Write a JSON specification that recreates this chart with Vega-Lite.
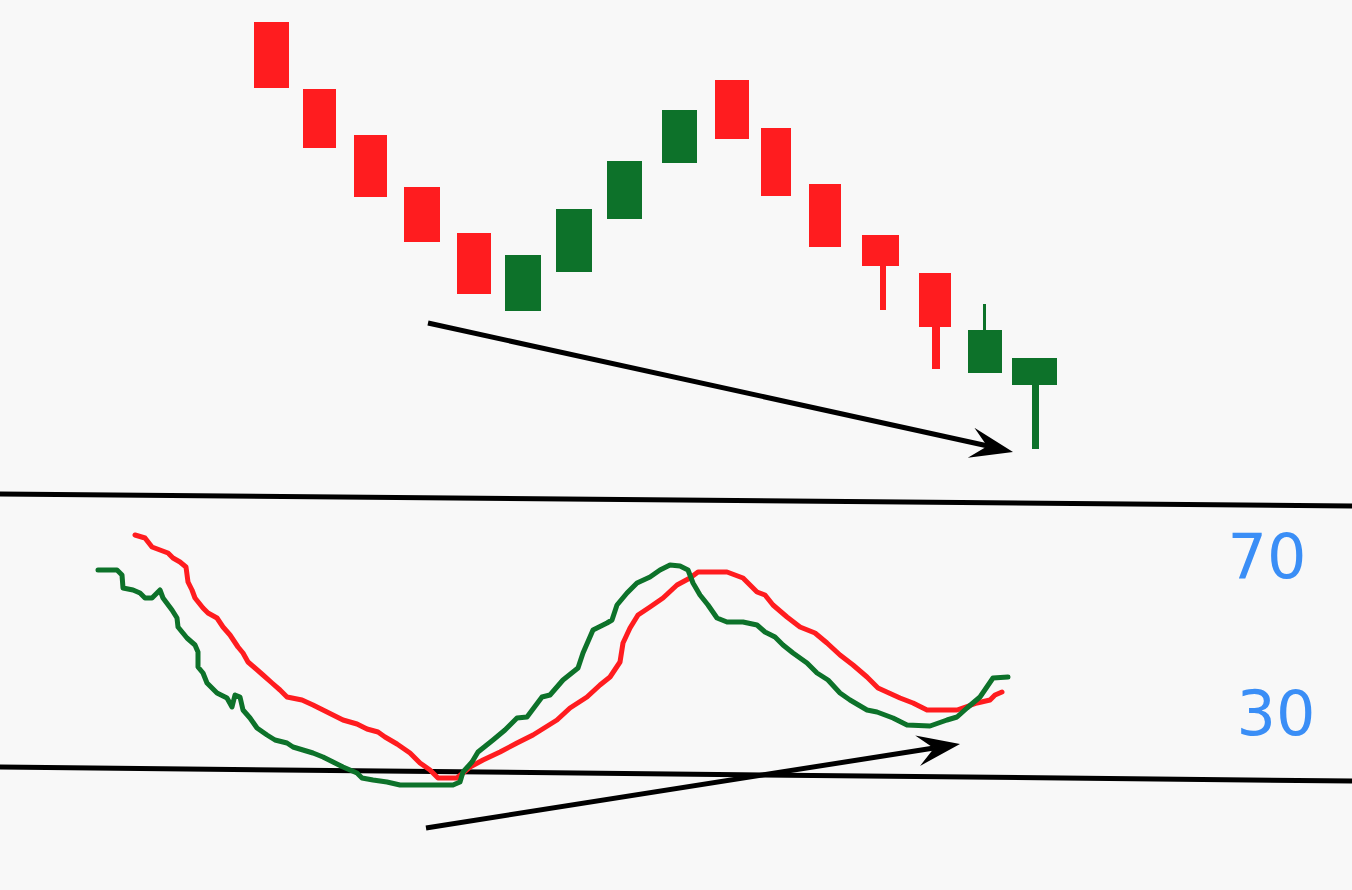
{
  "$schema": "https://vega.github.io/schema/vega-lite/v6.json",
  "autosize": {"type": "fit", "contains": "padding"},
  "width": 1352,
  "height": 890,
  "padding": 0,
  "background": "#f8f8f8",
  "config": {"view": {"stroke": null}},
  "datasets": {
    "candles": [
      {"i": 1, "x0": 254, "x1": 289, "top": 22, "bottom": 88, "dir": "down"},
      {"i": 2, "x0": 303, "x1": 336, "top": 89, "bottom": 148, "dir": "down"},
      {"i": 3, "x0": 354, "x1": 387, "top": 135, "bottom": 197, "dir": "down"},
      {"i": 4, "x0": 404, "x1": 440, "top": 187, "bottom": 242, "dir": "down"},
      {"i": 5, "x0": 457, "x1": 491, "top": 233, "bottom": 294, "dir": "down"},
      {"i": 6, "x0": 505, "x1": 541, "top": 255, "bottom": 311, "dir": "up"},
      {"i": 7, "x0": 556, "x1": 592, "top": 209, "bottom": 272, "dir": "up"},
      {"i": 8, "x0": 607, "x1": 642, "top": 161, "bottom": 219, "dir": "up"},
      {"i": 9, "x0": 662, "x1": 697, "top": 110, "bottom": 163, "dir": "up"},
      {"i": 10, "x0": 715, "x1": 749, "top": 80, "bottom": 139, "dir": "down"},
      {"i": 11, "x0": 761, "x1": 791, "top": 128, "bottom": 196, "dir": "down"},
      {"i": 12, "x0": 809, "x1": 841, "top": 184, "bottom": 247, "dir": "down"},
      {"i": 13, "x0": 862, "x1": 899, "top": 235, "bottom": 266, "dir": "down"},
      {"i": 14, "x0": 919, "x1": 951, "top": 273, "bottom": 327, "dir": "down"},
      {"i": 15, "x0": 968, "x1": 1002, "top": 330, "bottom": 373, "dir": "up"},
      {"i": 16, "x0": 1012, "x1": 1057, "top": 358, "bottom": 385, "dir": "up"}
    ],
    "wicks": [
      {"i": 13, "x0": 880, "x1": 886, "top": 266, "bottom": 310, "dir": "down"},
      {"i": 14, "x0": 932, "x1": 940, "top": 327, "bottom": 369, "dir": "down"},
      {"i": 15, "x0": 983, "x1": 986, "top": 304, "bottom": 330, "dir": "up"},
      {"i": 16, "x0": 1032, "x1": 1039, "top": 385, "bottom": 449, "dir": "up"}
    ],
    "segments": [
      {"name": "sep_top", "xa": 0, "ya": 494, "xb": 1352, "yb": 506},
      {"name": "sep_bottom", "xa": 0, "ya": 767, "xb": 1352, "yb": 781},
      {"name": "price_trend", "xa": 428, "ya": 323, "xb": 988, "yb": 446},
      {"name": "rsi_trend", "xa": 426, "ya": 828, "xb": 934, "yb": 748}
    ],
    "rsi": [
      {"s": "slow", "o": 1, "x": 135, "y": 535},
      {"s": "slow", "o": 2, "x": 145, "y": 538},
      {"s": "slow", "o": 3, "x": 152, "y": 547},
      {"s": "slow", "o": 4, "x": 160, "y": 550},
      {"s": "slow", "o": 5, "x": 168, "y": 553},
      {"s": "slow", "o": 6, "x": 173, "y": 558},
      {"s": "slow", "o": 7, "x": 180, "y": 562},
      {"s": "slow", "o": 8, "x": 186, "y": 567},
      {"s": "slow", "o": 9, "x": 188, "y": 582},
      {"s": "slow", "o": 10, "x": 192, "y": 590},
      {"s": "slow", "o": 11, "x": 195, "y": 598},
      {"s": "slow", "o": 12, "x": 203, "y": 608},
      {"s": "slow", "o": 13, "x": 208, "y": 613},
      {"s": "slow", "o": 14, "x": 217, "y": 618},
      {"s": "slow", "o": 15, "x": 223, "y": 627},
      {"s": "slow", "o": 16, "x": 230, "y": 635},
      {"s": "slow", "o": 17, "x": 238, "y": 647},
      {"s": "slow", "o": 18, "x": 243, "y": 653},
      {"s": "slow", "o": 19, "x": 248, "y": 662},
      {"s": "slow", "o": 20, "x": 255, "y": 668},
      {"s": "slow", "o": 21, "x": 263, "y": 675},
      {"s": "slow", "o": 22, "x": 272, "y": 683},
      {"s": "slow", "o": 23, "x": 280, "y": 690},
      {"s": "slow", "o": 24, "x": 287, "y": 697},
      {"s": "slow", "o": 25, "x": 302, "y": 700},
      {"s": "slow", "o": 26, "x": 313, "y": 705},
      {"s": "slow", "o": 27, "x": 327, "y": 712},
      {"s": "slow", "o": 28, "x": 343, "y": 720},
      {"s": "slow", "o": 29, "x": 357, "y": 724},
      {"s": "slow", "o": 30, "x": 367, "y": 729},
      {"s": "slow", "o": 31, "x": 378, "y": 732},
      {"s": "slow", "o": 32, "x": 385, "y": 737},
      {"s": "slow", "o": 33, "x": 397, "y": 744},
      {"s": "slow", "o": 34, "x": 410, "y": 753},
      {"s": "slow", "o": 35, "x": 420, "y": 763},
      {"s": "slow", "o": 36, "x": 430, "y": 770},
      {"s": "slow", "o": 37, "x": 438, "y": 778},
      {"s": "slow", "o": 38, "x": 457, "y": 778},
      {"s": "slow", "o": 39, "x": 463, "y": 773},
      {"s": "slow", "o": 40, "x": 470, "y": 767},
      {"s": "slow", "o": 41, "x": 483, "y": 760},
      {"s": "slow", "o": 42, "x": 500, "y": 752},
      {"s": "slow", "o": 43, "x": 517, "y": 743},
      {"s": "slow", "o": 44, "x": 533, "y": 735},
      {"s": "slow", "o": 45, "x": 557, "y": 720},
      {"s": "slow", "o": 46, "x": 570, "y": 708},
      {"s": "slow", "o": 47, "x": 587, "y": 697},
      {"s": "slow", "o": 48, "x": 600, "y": 685},
      {"s": "slow", "o": 49, "x": 610, "y": 677},
      {"s": "slow", "o": 50, "x": 620, "y": 662},
      {"s": "slow", "o": 51, "x": 623, "y": 643},
      {"s": "slow", "o": 52, "x": 630, "y": 628},
      {"s": "slow", "o": 53, "x": 638, "y": 615},
      {"s": "slow", "o": 54, "x": 650, "y": 607},
      {"s": "slow", "o": 55, "x": 663, "y": 598},
      {"s": "slow", "o": 56, "x": 677, "y": 585},
      {"s": "slow", "o": 57, "x": 690, "y": 578},
      {"s": "slow", "o": 58, "x": 698, "y": 572},
      {"s": "slow", "o": 59, "x": 727, "y": 572},
      {"s": "slow", "o": 60, "x": 743, "y": 578},
      {"s": "slow", "o": 61, "x": 757, "y": 592},
      {"s": "slow", "o": 62, "x": 765, "y": 595},
      {"s": "slow", "o": 63, "x": 773, "y": 605},
      {"s": "slow", "o": 64, "x": 787, "y": 617},
      {"s": "slow", "o": 65, "x": 800, "y": 627},
      {"s": "slow", "o": 66, "x": 815, "y": 633},
      {"s": "slow", "o": 67, "x": 827, "y": 643},
      {"s": "slow", "o": 68, "x": 840, "y": 655},
      {"s": "slow", "o": 69, "x": 853, "y": 665},
      {"s": "slow", "o": 70, "x": 867, "y": 677},
      {"s": "slow", "o": 71, "x": 878, "y": 688},
      {"s": "slow", "o": 72, "x": 900, "y": 698},
      {"s": "slow", "o": 73, "x": 913, "y": 703},
      {"s": "slow", "o": 74, "x": 927, "y": 710},
      {"s": "slow", "o": 75, "x": 957, "y": 710},
      {"s": "slow", "o": 76, "x": 977, "y": 703},
      {"s": "slow", "o": 77, "x": 990, "y": 700},
      {"s": "slow", "o": 78, "x": 995, "y": 695},
      {"s": "slow", "o": 79, "x": 1002, "y": 692},
      {"s": "fast", "o": 1, "x": 98, "y": 570},
      {"s": "fast", "o": 2, "x": 117, "y": 570},
      {"s": "fast", "o": 3, "x": 122, "y": 575},
      {"s": "fast", "o": 4, "x": 123, "y": 588},
      {"s": "fast", "o": 5, "x": 133, "y": 590},
      {"s": "fast", "o": 6, "x": 140, "y": 593},
      {"s": "fast", "o": 7, "x": 145, "y": 598},
      {"s": "fast", "o": 8, "x": 152, "y": 598},
      {"s": "fast", "o": 9, "x": 160, "y": 590},
      {"s": "fast", "o": 10, "x": 163, "y": 598},
      {"s": "fast", "o": 11, "x": 172, "y": 610},
      {"s": "fast", "o": 12, "x": 177, "y": 618},
      {"s": "fast", "o": 13, "x": 178, "y": 627},
      {"s": "fast", "o": 14, "x": 187, "y": 638},
      {"s": "fast", "o": 15, "x": 195, "y": 645},
      {"s": "fast", "o": 16, "x": 198, "y": 652},
      {"s": "fast", "o": 17, "x": 198, "y": 667},
      {"s": "fast", "o": 18, "x": 203, "y": 673},
      {"s": "fast", "o": 19, "x": 207, "y": 683},
      {"s": "fast", "o": 20, "x": 217, "y": 693},
      {"s": "fast", "o": 21, "x": 227, "y": 698},
      {"s": "fast", "o": 22, "x": 232, "y": 707},
      {"s": "fast", "o": 23, "x": 235, "y": 695},
      {"s": "fast", "o": 24, "x": 240, "y": 697},
      {"s": "fast", "o": 25, "x": 243, "y": 710},
      {"s": "fast", "o": 26, "x": 250, "y": 718},
      {"s": "fast", "o": 27, "x": 257, "y": 728},
      {"s": "fast", "o": 28, "x": 267, "y": 735},
      {"s": "fast", "o": 29, "x": 275, "y": 740},
      {"s": "fast", "o": 30, "x": 287, "y": 743},
      {"s": "fast", "o": 31, "x": 293, "y": 747},
      {"s": "fast", "o": 32, "x": 303, "y": 750},
      {"s": "fast", "o": 33, "x": 313, "y": 753},
      {"s": "fast", "o": 34, "x": 323, "y": 757},
      {"s": "fast", "o": 35, "x": 333, "y": 762},
      {"s": "fast", "o": 36, "x": 343, "y": 767},
      {"s": "fast", "o": 37, "x": 357, "y": 773},
      {"s": "fast", "o": 38, "x": 362, "y": 778},
      {"s": "fast", "o": 39, "x": 373, "y": 780},
      {"s": "fast", "o": 40, "x": 387, "y": 782},
      {"s": "fast", "o": 41, "x": 400, "y": 785},
      {"s": "fast", "o": 42, "x": 453, "y": 785},
      {"s": "fast", "o": 43, "x": 460, "y": 782},
      {"s": "fast", "o": 44, "x": 463, "y": 772},
      {"s": "fast", "o": 45, "x": 472, "y": 762},
      {"s": "fast", "o": 46, "x": 478, "y": 752},
      {"s": "fast", "o": 47, "x": 493, "y": 740},
      {"s": "fast", "o": 48, "x": 505, "y": 730},
      {"s": "fast", "o": 49, "x": 517, "y": 718},
      {"s": "fast", "o": 50, "x": 527, "y": 717},
      {"s": "fast", "o": 51, "x": 542, "y": 697},
      {"s": "fast", "o": 52, "x": 550, "y": 695},
      {"s": "fast", "o": 53, "x": 563, "y": 680},
      {"s": "fast", "o": 54, "x": 578, "y": 668},
      {"s": "fast", "o": 55, "x": 583, "y": 653},
      {"s": "fast", "o": 56, "x": 593, "y": 630},
      {"s": "fast", "o": 57, "x": 607, "y": 623},
      {"s": "fast", "o": 58, "x": 612, "y": 620},
      {"s": "fast", "o": 59, "x": 617, "y": 605},
      {"s": "fast", "o": 60, "x": 627, "y": 593},
      {"s": "fast", "o": 61, "x": 637, "y": 583},
      {"s": "fast", "o": 62, "x": 650, "y": 577},
      {"s": "fast", "o": 63, "x": 660, "y": 570},
      {"s": "fast", "o": 64, "x": 670, "y": 565},
      {"s": "fast", "o": 65, "x": 680, "y": 566},
      {"s": "fast", "o": 66, "x": 688, "y": 570},
      {"s": "fast", "o": 67, "x": 693, "y": 583},
      {"s": "fast", "o": 68, "x": 700, "y": 595},
      {"s": "fast", "o": 69, "x": 708, "y": 605},
      {"s": "fast", "o": 70, "x": 717, "y": 618},
      {"s": "fast", "o": 71, "x": 727, "y": 622},
      {"s": "fast", "o": 72, "x": 743, "y": 622},
      {"s": "fast", "o": 73, "x": 757, "y": 625},
      {"s": "fast", "o": 74, "x": 765, "y": 632},
      {"s": "fast", "o": 75, "x": 775, "y": 637},
      {"s": "fast", "o": 76, "x": 783, "y": 645},
      {"s": "fast", "o": 77, "x": 793, "y": 653},
      {"s": "fast", "o": 78, "x": 807, "y": 663},
      {"s": "fast", "o": 79, "x": 817, "y": 673},
      {"s": "fast", "o": 80, "x": 828, "y": 680},
      {"s": "fast", "o": 81, "x": 840, "y": 693},
      {"s": "fast", "o": 82, "x": 850, "y": 700},
      {"s": "fast", "o": 83, "x": 867, "y": 710},
      {"s": "fast", "o": 84, "x": 877, "y": 712},
      {"s": "fast", "o": 85, "x": 893, "y": 718},
      {"s": "fast", "o": 86, "x": 907, "y": 725},
      {"s": "fast", "o": 87, "x": 930, "y": 726},
      {"s": "fast", "o": 88, "x": 947, "y": 720},
      {"s": "fast", "o": 89, "x": 957, "y": 717},
      {"s": "fast", "o": 90, "x": 967, "y": 708},
      {"s": "fast", "o": 91, "x": 980, "y": 697},
      {"s": "fast", "o": 92, "x": 993, "y": 678},
      {"s": "fast", "o": 93, "x": 1008, "y": 677}
    ],
    "levels": [
      {"label": "70", "x": 1267, "y": 578},
      {"label": "30", "x": 1276, "y": 735}
    ]
  },
  "layer": [
    {
      "data": {"name": "segments"},
      "mark": {"type": "rule", "strokeWidth": 5, "color": "#000000", "strokeCap": "butt", "clip": true},
      "encoding": {
        "x": {"field": "xa", "type": "quantitative", "scale": {"domain": [0, 1352], "nice": false, "zero": false}, "axis": null},
        "y": {"field": "ya", "type": "quantitative", "scale": {"domain": [0, 890], "nice": false, "zero": false, "reverse": true}, "axis": null},
        "x2": {"field": "xb"},
        "y2": {"field": "yb"}
      }
    },
    {
      "data": {"name": "candles"},
      "mark": {"type": "rect"},
      "encoding": {
        "x": {"field": "x0", "type": "quantitative"},
        "x2": {"field": "x1"},
        "y": {"field": "top", "type": "quantitative"},
        "y2": {"field": "bottom"},
        "color": {"field": "dir", "type": "nominal", "scale": {"domain": ["down", "up"], "range": ["#ff1c1f", "#0d722a"]}, "legend": null}
      }
    },
    {
      "data": {"name": "wicks"},
      "mark": {"type": "rect"},
      "encoding": {
        "x": {"field": "x0", "type": "quantitative"},
        "x2": {"field": "x1"},
        "y": {"field": "top", "type": "quantitative"},
        "y2": {"field": "bottom"},
        "color": {"field": "dir", "type": "nominal", "legend": null}
      }
    },
    {
      "data": {"name": "rsi"},
      "mark": {"type": "line", "strokeWidth": 5, "strokeCap": "round", "strokeJoin": "round"},
      "encoding": {
        "x": {"field": "x", "type": "quantitative"},
        "y": {"field": "y", "type": "quantitative"},
        "detail": {"field": "s"},
        "order": {"field": "o", "type": "quantitative"},
        "stroke": {"field": "s", "type": "nominal", "scale": {"domain": ["slow", "fast"], "range": ["#ff1c1f", "#0d722a"]}, "legend": null}
      }
    },
    {
      "data": {"values": [{"x": 1013, "y": 452}]},
      "mark": {"type": "point", "shape": "M0,0L-1.95,-0.7L-1.2,0L-1.95,0.7Z", "size": 1936, "angle": 12.4, "filled": true, "color": "#000000", "opacity": 1, "strokeWidth": 0},
      "encoding": {
        "x": {"field": "x", "type": "quantitative"},
        "y": {"field": "y", "type": "quantitative"}
      }
    },
    {
      "data": {"values": [{"x": 960, "y": 744}]},
      "mark": {"type": "point", "shape": "M0,0L-1.95,-0.7L-1.2,0L-1.95,0.7Z", "size": 1936, "angle": -9, "filled": true, "color": "#000000", "opacity": 1, "strokeWidth": 0},
      "encoding": {
        "x": {"field": "x", "type": "quantitative"},
        "y": {"field": "y", "type": "quantitative"}
      }
    },
    {
      "data": {"name": "levels"},
      "mark": {"type": "text", "font": "DejaVu Sans", "fontSize": 62, "color": "#3a8ef6", "align": "center", "baseline": "alphabetic"},
      "encoding": {
        "x": {"field": "x", "type": "quantitative"},
        "y": {"field": "y", "type": "quantitative"},
        "text": {"field": "label"}
      }
    }
  ]
}
